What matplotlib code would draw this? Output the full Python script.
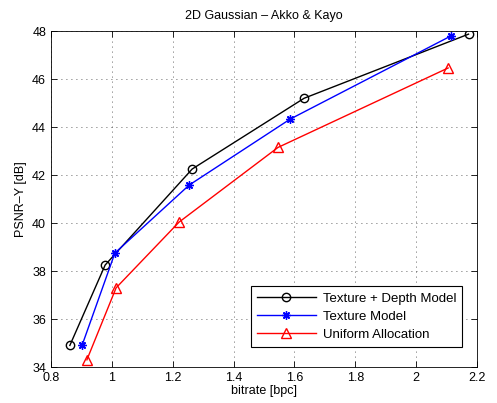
import matplotlib
matplotlib.use("Agg")
import matplotlib.pyplot as plt

plt.rcParams['font.family'] = ['Liberation Sans', 'DejaVu Sans']

td_x = [0.862, 0.978, 1.264, 1.632, 2.172]
td_y = [34.9, 38.25, 42.25, 45.2, 47.87]
tm_x = [0.902, 1.010, 1.254, 1.586, 2.115]
tm_y = [34.9, 38.75, 41.58, 44.33, 47.8]
ua_x = [0.918, 1.014, 1.221, 1.546, 2.105]
ua_y = [34.3, 37.3, 40.04, 43.15, 46.46]

xticks = [0.8, 1.0, 1.2, 1.4, 1.6, 1.8, 2.0, 2.2]
xticklabels = ['0.8', '1', '1.2', '1.4', '1.6', '1.8', '2', '2.2']
yticks = [34, 36, 38, 40, 42, 44, 46, 48]

fig = plt.figure(figsize=(4.97, 4.03), dpi=100)
ax = fig.add_axes([0.1026, 0.0893, 0.8572, 0.8337])

ax.plot(td_x, td_y, '-', color='black', marker='o', mfc='none', ms=6, mew=1.0, lw=1.0,
        label='Texture + Depth Model')
ax.plot(tm_x, tm_y, '-', color='blue', marker=(8, 2, 0), ms=6, mew=1.0, lw=1.0,
        label='Texture Model')
ax.plot(ua_x, ua_y, '-', color='red', marker='^', mfc='none', ms=7, mew=1.0, lw=1.0,
        label='Uniform Allocation')

ax.set_xlim(0.8, 2.2)
ax.set_ylim(34, 48)
ax.set_xticks(xticks)
ax.set_xticklabels(xticklabels)
ax.set_yticks(yticks)
ax.tick_params(direction='in', top=True, right=True, labelsize=9, length=4, width=0.6)
ax.grid(True, linestyle=(0, (1, 5)), color='black', linewidth=0.6, alpha=0.8)
for s in ax.spines.values():
    s.set_linewidth(0.6)

ax.set_xlabel('bitrate [bpc]', fontsize=9, labelpad=1)
ax.set_ylabel('PSNR\u2013Y [dB]', fontsize=9, labelpad=4)
ax.set_title('2D Gaussian \u2013 Akko & Kayo', fontsize=9, pad=9)

leg = ax.legend(loc='lower right', fontsize=9.5, fancybox=False, framealpha=1,
                edgecolor='black', borderaxespad=0.0, bbox_to_anchor=(0.965, 0.06),
                handlelength=4.5, borderpad=0.45, labelspacing=0.45, handletextpad=0.5)
leg.get_frame().set_linewidth(0.8)

fig.savefig('out.png', dpi=100)
